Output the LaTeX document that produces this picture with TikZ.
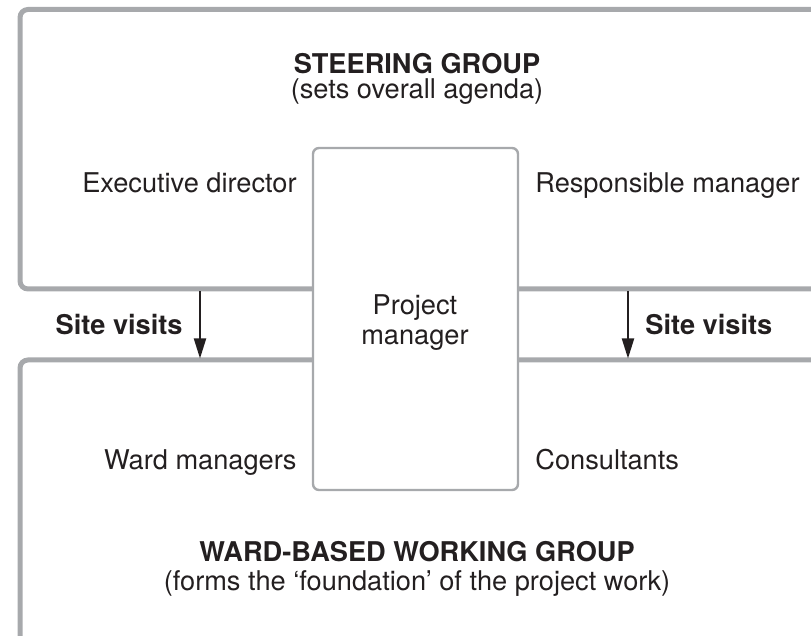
\documentclass[tikz,border=0pt]{standalone}
\usepackage{fontspec}
\setmainfont{TeX Gyre Heros}
\usetikzlibrary{arrows.meta}
\definecolor{boxgray}{HTML}{A7A9AC}
\definecolor{ink}{HTML}{231F20}
\begin{document}
\begin{tikzpicture}[x=0.5pt,y=-0.5pt,
  outer/.style={draw=boxgray,line width=2.5pt,rounded corners=4pt},
  inner/.style={draw=boxgray,fill=white,line width=1.2pt,rounded corners=3pt},
  txt/.style={inner sep=0pt,text=ink,font=\fontsize{13.6}{16}\selectfont},
  btxt/.style={inner sep=0pt,text=ink,font=\fontsize{13.6}{16}\selectfont\bfseries},
  arr/.style={draw=ink,line width=1pt,-{Triangle[length=10pt,width=6pt]}}]
\useasboundingbox (0,0) rectangle (811,636);
\clip (0,0) rectangle (811,636);
% outer groups
\draw[outer] (830,9.5) -- (20,9.5) -- (20,289) -- (830,289);
\draw[outer] (830,360) -- (20,360) -- (20,660);
% project manager box
\draw[inner] (313,148) rectangle (518,490);
% texts
\node[btxt,anchor=base] (sg) at (417,74) {STEERING GROUP};
\node[txt,anchor=base] (sga) at (417,99) {(sets overall agenda)};
\node[txt,anchor=base east] (ed) at (297,193) {Executive director};
\node[txt,anchor=base west] (rm) at (535,193) {Responsible manager};
\node[txt,anchor=base] (pm1) at (415,315) {Project};
\node[txt,anchor=base] (pm2) at (415,345) {manager};
\node[btxt,anchor=base east] (svl) at (183,335) {Site visits};
\node[btxt,anchor=base west] (svr) at (645,335) {Site visits};
\node[txt,anchor=base east] (wm) at (297,470) {Ward managers};
\node[txt,anchor=base west] (co) at (535,470) {Consultants};
\node[btxt,anchor=base] (wg) at (417,562) {WARD-BASED WORKING GROUP};
\node[txt,anchor=base] (wga) at (417,591) {(forms the ‘foundation’ of the project work)};
% arrows
\coordinate (l1) at (200,291.5);
\coordinate (l2) at (200,358.5);
\coordinate (r1) at (628,291.5);
\coordinate (r2) at (628,358.5);
\draw[arr] (l1) -- (l2);
\draw[arr] (r1) -- (r2);
\end{tikzpicture}
\end{document}
